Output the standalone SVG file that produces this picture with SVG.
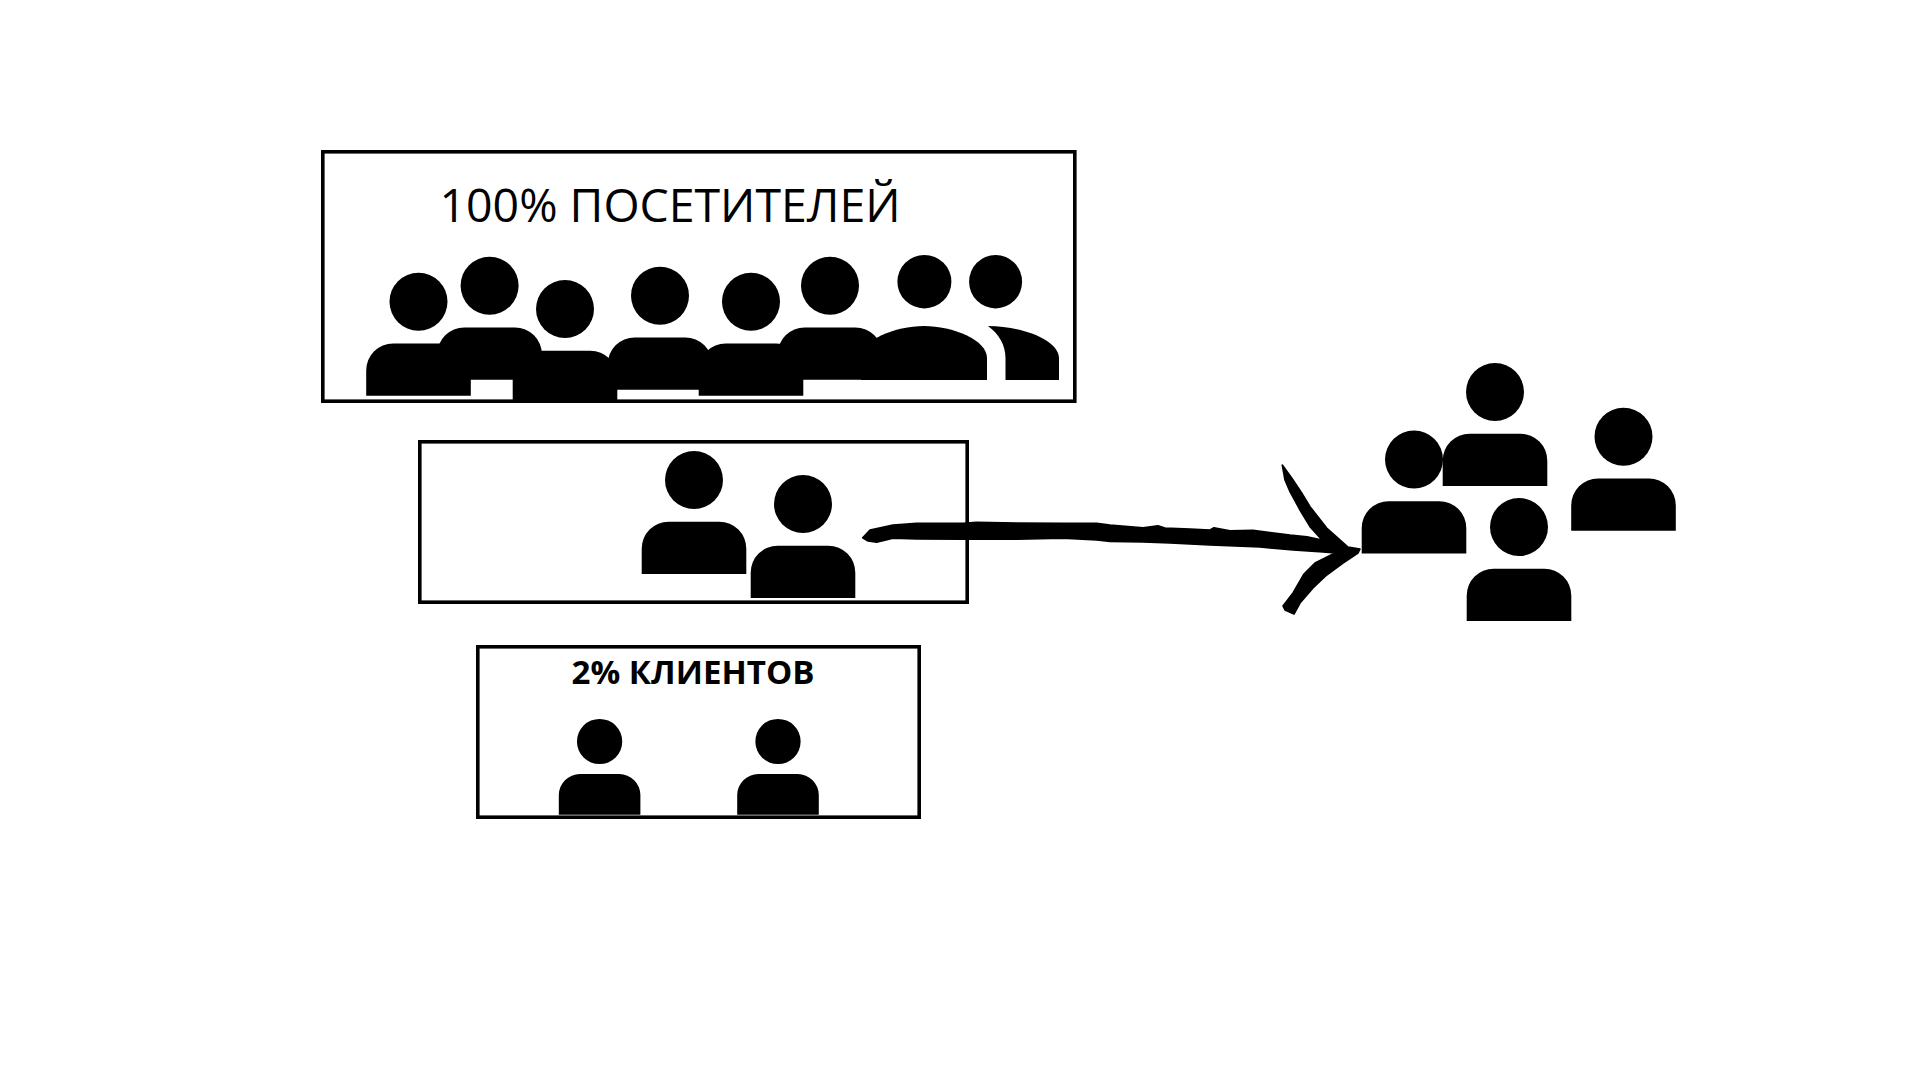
<svg xmlns="http://www.w3.org/2000/svg" width="1920" height="1080" viewBox="0 0 1920 1080">
<style>
.box{fill:#fff;stroke:#000;stroke-width:3.6}
.ink{fill:#000}
.arrow{fill:#000;stroke:#000;stroke-width:1.6;stroke-linejoin:round}
.t{font-family:"Open Sans","Noto Sans",sans-serif;fill:#000}
</style>
<defs>
<g id="person">
<circle class="ink" cx="0" cy="0" r="29"/>
<path class="ink" d="M-52.3 94V68.7A27 27 0 0 1-25.3 41.7H25.3A27 27 0 0 1 52.3 68.7V94Z"/>
</g>
</defs>
<rect width="1920" height="1080" fill="#fff"/>
<g id="box-visitors">
<rect class="box" x="322.8" y="151.8" width="752" height="249.4"/>
<text class="t" x="439.5" y="221.7" font-size="45" textLength="461" lengthAdjust="spacingAndGlyphs">100% ПОСЕТИТЕЛЕЙ</text>
<use href="#person" x="418.5" y="301.7"/>
<use href="#person" x="489.6" y="285.7"/>
<use href="#person" x="565" y="309"/>
<use href="#person" x="660" y="295.7"/>
<use href="#person" x="751" y="301.7"/>
<use href="#person" x="830" y="285.7"/>
<ellipse class="ink" cx="924.4" cy="281.7" rx="27" ry="26.7"/>
<path class="ink" d="M861 380V358C861 340 895 326 924 326C953 326 987 340 987 358V380Z"/>
<ellipse class="ink" cx="995.6" cy="281.7" rx="26.5" ry="26.7"/>
<path class="ink" d="M988 326C1022 326 1059 340 1059 358V380H1005.5V358C1005.5 345 999 334 988 326Z"/>
</g>
<g id="box-middle">
<rect class="box" x="419.8" y="441.8" width="547.4" height="160.4"/>
<use href="#person" x="694" y="480"/>
<use href="#person" x="803" y="504"/>
</g>
<g id="box-clients">
<rect class="box" x="477.8" y="646.8" width="441.4" height="170.4"/>
<text class="t" x="571.5" y="684" font-size="32.7" font-weight="700" textLength="243" lengthAdjust="spacingAndGlyphs">2% КЛИЕНТОВ</text>
<use href="#person" transform="translate(599.6 741.5) scale(.78)"/>
<use href="#person" transform="translate(778 741.5) scale(.78)"/>
</g>
<g id="group-right">
<use href="#person" x="1495" y="392"/>
<use href="#person" x="1414" y="459.5"/>
<use href="#person" x="1623.5" y="436.7"/>
<use href="#person" x="1519" y="527"/>
</g>
<g id="connectors">
<path class="arrow" d="M862.7 537.7L870 530L893 525L916.7 523.3L963 523.3L976.7 522.3L1016.7 523L1063 523.3L1096.7 523.3L1110 525L1143 527.7L1158 525.7L1165 528L1190 529L1210 530L1214 527.7L1230 530.7L1253 530.3L1290 535L1307 536.7L1322 540L1310 526.7L1300 510L1290 491.7L1285 480L1282.3 465L1291.7 478L1301.7 493L1310 506.7L1326.7 528L1348 547L1360 549L1358 553L1343 563L1326.7 575L1313 588L1300 603L1294 614L1285 610L1283 606L1293 593L1304 574L1315 563L1335 553L1323 552L1293 550L1260 547L1210 545L1170 543L1143 542L1110 541.5L1096.7 540L1063 538.3L1016.7 539.3L963 539.3L916.7 539L893 538.3L876.7 542.3L868 541Z"/>
</g>
</svg>
